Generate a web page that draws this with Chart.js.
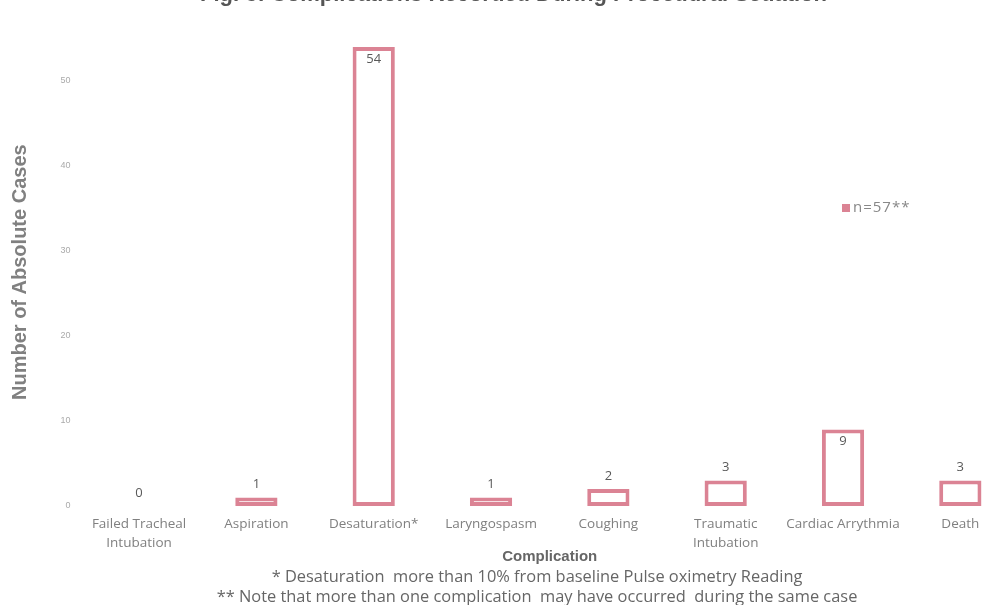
<!DOCTYPE html>
<html>
<head>
<meta charset="utf-8">
<script src="https://cdn.jsdelivr.net/npm/chart.js@4.4.1/dist/chart.umd.min.js"></script>
<style>
  html, body { margin: 0; padding: 0; background: #fff; overflow: hidden; }
  #wrap { position: absolute; left: 0; top: -18px; width: 1074px; height: 628px; }
</style>
</head>
<body>
<div id="wrap"><canvas id="chart-area"></canvas></div>
<script>
// datos de la grafica
var complicaciones = [
  ['Failed Tracheal', 'Intubation'],
  'Aspiration',
  'Desaturation*',
  'Laryngospasm',
  'Coughing',
  ['Traumatic', 'Intubation'],
  'Cardiac Arrythmia',
  'Death'
];
var casos = [0, 1, 54, 1, 2, 3, 9, 3];
var ticksY = [0, 10, 20, 30, 40, 50];
var serieNombre = 'n=57**';
var notas = [
  '* Desaturation  more than 10% from baseline Pulse oximetry Reading',
  '** Note that more than one complication  may have occurred  during the same case'
];

var rosa = '#db8394';
var gris = '#808080';

// etiquetas de valor encima / dentro de cada barra
var etiquetas = {
  id: 'etiquetas',
  afterDatasetsDraw: function(chart) {
    var ctx = chart.ctx;
    var meta = chart.getDatasetMeta(0);
    ctx.save();
    ctx.font = '13px "Open Sans", sans-serif';
    ctx.fillStyle = '#595959';
    ctx.textAlign = 'center';
    ctx.textBaseline = 'middle';
    meta.data.forEach(function(bar, i) {
      var v = chart.data.datasets[0].data[i];
      var y = v >= 9 ? bar.y + 12 : bar.y - 13;
      ctx.fillText(String(v), bar.x, y);
    });
    ctx.restore();
  }
};

// leyenda dentro del area y notas al pie
var leyenda = {
  id: 'leyenda',
  afterDraw: function(chart) {
    var ctx = chart.ctx;
    var ds = chart.data.datasets[0];
    var x = 842, y = 226;
    ctx.save();
    ctx.fillStyle = ds.borderColor;
    ctx.fillRect(x, y - 4, 8, 8);
    ctx.font = '15px "Open Sans", sans-serif';
    ctx.letterSpacing = '1px';
    ctx.fillStyle = '#888';
    ctx.textBaseline = 'middle';
    ctx.fillText(ds.label, x + 11, y);
    ctx.letterSpacing = '0px';

    ctx.font = '16.4px "Open Sans", sans-serif';
    ctx.fillStyle = '#666';
    ctx.textAlign = 'center';
    ctx.fillText(notas[0], 537, chart.height - 33);
    ctx.fillText(notas[1], 537, chart.height - 13);
    ctx.restore();
  }
};

var config = {
  type: 'bar',
  data: {
    labels: complicaciones,
    datasets: [{
      label: serieNombre,
      data: casos,
      backgroundColor: '#ffffff',
      borderColor: rosa,
      borderWidth: 4,
      borderSkipped: false,
      barPercentage: 0.36,
      categoryPercentage: 1
    }]
  },
  options: {
    responsive: true,
    maintainAspectRatio: false,
    animation: false,
    layout: { padding: { left: 8, right: 55, top: 0, bottom: 41 } },
    plugins: {
      legend: { display: false },
      tooltip: { enabled: false },
      title: {
        display: true,
        text: 'Fig. 3: Complications Recorded During Procedural Sedation',
        color: '#555',
        font: { family: '"Liberation Sans", sans-serif', size: 22, weight: 'bold' },
        padding: { top: 0, bottom: 30 }
      }
    },
    scales: {
      x: {
        grid: { display: false },
        border: { display: false },
        ticks: {
          color: gris,
          font: { family: '"Open Sans", sans-serif', size: 13.5, lineHeight: 1.41 },
          maxRotation: 0,
          autoSkip: false,
          padding: 1
        },
        title: {
          display: true,
          text: 'Complication',
          color: '#666',
          font: { family: '"Liberation Sans Narrow", "Liberation Sans", sans-serif', size: 15, weight: 'bold' },
          padding: { top: -6, bottom: 3 }
        }
      },
      y: {
        min: 0,
        max: 55,
        grid: { display: false, drawTicks: false },
        border: { display: false },
        afterBuildTicks: function(scale) {
          scale.ticks = ticksY.map(function(v) { return { value: v }; });
        },
        afterFit: function(scale) { scale.width = 72.4; },
        ticks: {
          color: '#aaa',
          font: { family: '"Liberation Sans", sans-serif', size: 9 },
          padding: 10
        },
        title: {
          display: true,
          text: 'Number of Absolute Cases',
          color: gris,
          font: { family: '"Liberation Sans", sans-serif', size: 20, weight: 'bold' },
          padding: { top: 0, bottom: 0 }
        }
      }
    }
  },
  plugins: [etiquetas, leyenda]
};

var ctx = document.getElementById('chart-area').getContext('2d');
window.myBar = new Chart(ctx, config);
</script>
</body>
</html>
